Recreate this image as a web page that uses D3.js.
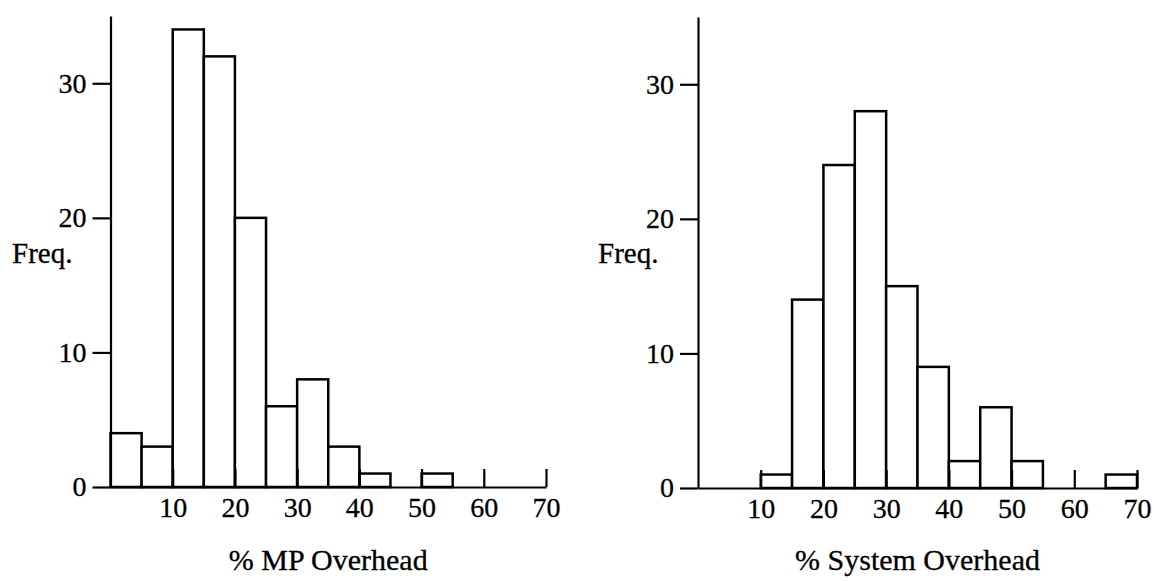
<!DOCTYPE html>
<html>
<head>
<meta charset="utf-8">
<script src="https://cdn.jsdelivr.net/npm/d3@7"></script>
<style>
  body { margin: 0; background: #fff; }
  svg { display: block; }
  text { font-family: "Liberation Serif", "Times New Roman", serif; fill: #000; stroke: #000; stroke-width: 0.3px; }
</style>
</head>
<body>
<div id="chart"></div>
<script>
// histogram bins are 5% wide, starting at 0
let binStarts = [0, 5, 10, 15, 20, 25, 30, 35, 40, 45, 50, 55, 60, 65];
let binWidth = 5;
let mpFreq  = [4, 3, 34, 32, 20, 6, 8, 3, 1, 0, 1, 0, 0, 0];
let sysFreq = [0, 0, 1, 14, 24, 28, 15, 9, 2, 6, 2, 0, 0, 1];
let xTicks = [10, 20, 30, 40, 50, 60, 70];
let yTicks = [0, 10, 20, 30];

let width = 1154, height = 581;
let svg = d3.select('#chart').append('svg')
  .attr('width', width)
  .attr('height', height);

let drawHist = function(freq, opt) {
  let g = svg.append('g');
  let x = d3.scaleLinear().domain([0, 70]).range([opt.left, opt.right]);
  let y = d3.scaleLinear().domain([0, 35]).range([opt.bottom, opt.top]);

  let bins = binStarts.map((s, i) => ({x0: s, x1: s + binWidth, n: freq[i]}))
    .filter(d => d.n > 0);

  g.selectAll('rect.bar')
    .data(bins)
    .enter().append('rect')
    .attr('class', 'bar')
    .attr('x', d => x(d.x0))
    .attr('y', d => y(d.n))
    .attr('width', d => x(d.x1) - x(d.x0))
    .attr('height', d => y(0) - y(d.n))
    .attr('fill', '#fff')
    .attr('stroke', '#000')
    .attr('stroke-width', 2.5);

  let yAxis = d3.axisLeft(y).tickValues(yTicks).tickSize(18).tickSizeOuter(0).tickPadding(6);
  let xAxis = d3.axisBottom(x).tickValues(xTicks).tickSizeInner(-18).tickSizeOuter(0).tickPadding(10);

  let ya = g.append('g')
    .attr('transform', 'translate(' + [opt.left, 0] + ')')
    .call(yAxis);
  let xa = g.append('g')
    .attr('transform', 'translate(' + [0, opt.bottom] + ')')
    .call(xAxis);

  [ya, xa].forEach(a => {
    a.selectAll('path, line').attr('stroke', '#000').attr('stroke-width', 2.2);
    a.selectAll('text').style('font-size', '28px');
  });

  g.append('text')
    .attr('x', opt.freqX)
    .attr('y', 263)
    .style('font-size', '29px')
    .text('Freq.');

  g.append('text')
    .attr('x', (opt.left + opt.right) / 2)
    .attr('y', 570)
    .attr('text-anchor', 'middle')
    .style('font-size', '30px')
    .text(opt.title);
};

drawHist(mpFreq, {left: 110.5, right: 546, top: 16, bottom: 487, freqX: 12, title: '% MP Overhead'});
drawHist(sysFreq, {left: 698, right: 1137, top: 17, bottom: 488, freqX: 598, title: '% System Overhead'});
</script>
</body>
</html>
